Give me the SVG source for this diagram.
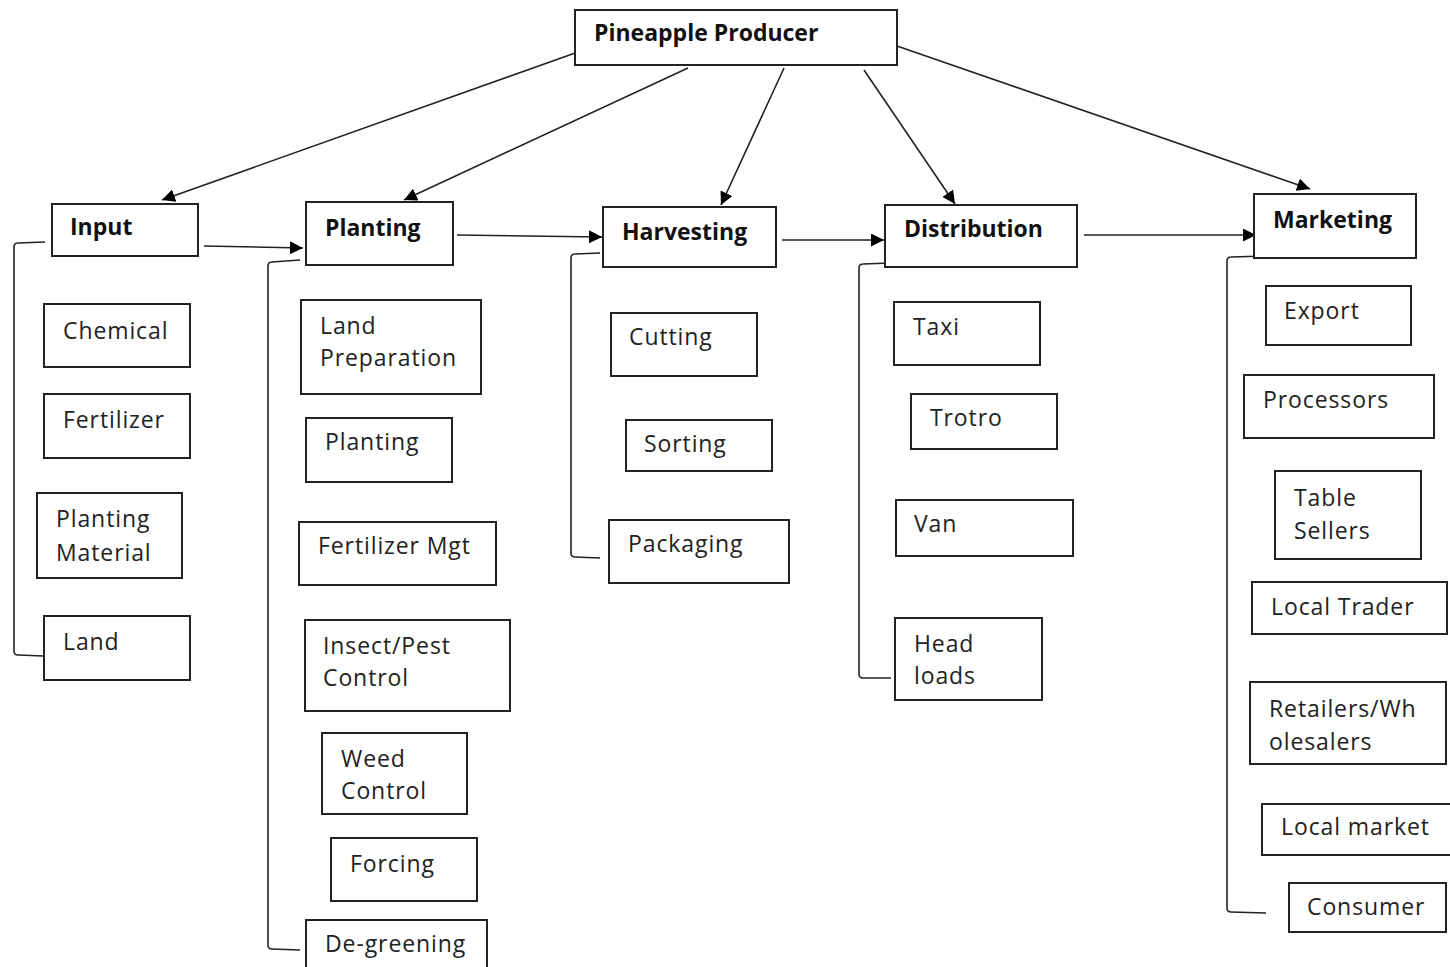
<svg xmlns="http://www.w3.org/2000/svg" width="1450" height="967" viewBox="0 0 1450 967">
<defs>
<marker id="ah" viewBox="0 0 10 10" refX="10" refY="5" markerWidth="13" markerHeight="13" markerUnits="userSpaceOnUse" orient="auto">
<path d="M0,0 L10,5 L0,10 z" fill="#000"/>
</marker>
<style>
rect{fill:#fff;stroke:#222;stroke-width:2}
text{font-family:"Open Sans","Noto Sans",sans-serif;font-size:23px;letter-spacing:0.9px;fill:#222}
.h{font-weight:bold;fill:#111;letter-spacing:0}
.c line{stroke:#222;stroke-width:1.6;marker-end:url(#ah)}
.c path{fill:none;stroke:#222;stroke-width:1.6}
</style>
</defs>
<rect x="0" y="0" width="1450" height="967" style="stroke:none;fill:#fff"/>
<g class="c" id="connectors">
<line x1="578" y1="52" x2="162" y2="200"/>
<line x1="688" y1="68" x2="404" y2="200"/>
<line x1="784" y1="68" x2="721" y2="205"/>
<line x1="864" y1="70" x2="955" y2="204"/>
<line x1="897" y1="46" x2="1310" y2="189"/>
<line x1="204" y1="246" x2="303" y2="248"/>
<line x1="457" y1="235" x2="602" y2="237"/>
<line x1="782" y1="240" x2="884" y2="240"/>
<line x1="1084" y1="235" x2="1256" y2="235"/>
<path d="M45,242 L18,243 Q14,243 14,247 L14,651 Q14,655 18,655 L44,656"/>
<path d="M300,260 L272,262 Q268,262 268,266 L268,945 Q268,949 272,949 L300,950"/>
<path d="M600,253 L575,254 Q571,254 571,258 L571,553 Q571,557 575,557 L600,558"/>
<path d="M890,263 L863,264 Q859,264 859,268 L859,674 Q859,678 863,678 L891,678"/>
<path d="M1266,256 L1231,257 Q1227,257 1227,261 L1227,908 Q1227,912 1231,912 L1266,913"/>
</g>
<g id="producer"><rect x="575" y="10" width="322" height="55"/><text class="h" x="594" y="41">Pineapple Producer</text></g>
<g id="input"><rect x="52" y="204" width="146" height="52"/><text class="h" x="70" y="235">Input</text></g>
<g id="planting"><rect x="306" y="202" width="147" height="63"/><text class="h" x="325" y="236">Planting</text></g>
<g id="harvesting"><rect x="603" y="207" width="173" height="60"/><text class="h" x="622" y="240">Harvesting</text></g>
<g id="distribution"><rect x="885" y="205" width="192" height="62"/><text class="h" x="904" y="237">Distribution</text></g>
<g id="marketing"><rect x="1254" y="194" width="162" height="64"/><text class="h" x="1273" y="228">Marketing</text></g>

<g id="chemical"><rect x="44" y="304" width="146" height="63"/><text x="63" y="339">Chemical</text></g>
<g id="fertilizer"><rect x="44" y="394" width="146" height="64"/><text x="63" y="428">Fertilizer</text></g>
<g id="planting-material"><rect x="37" y="493" width="145" height="85"/><text x="56" y="527">Planting</text><text x="56" y="561">Material</text></g>
<g id="land"><rect x="44" y="616" width="146" height="64"/><text x="63" y="650">Land</text></g>

<g id="land-preparation"><rect x="301" y="300" width="180" height="94"/><text x="320" y="334">Land</text><text x="320" y="366">Preparation</text></g>
<g id="planting-task"><rect x="306" y="418" width="146" height="64"/><text x="325" y="450">Planting</text></g>
<g id="fertilizer-mgt"><rect x="299" y="522" width="197" height="63"/><text x="318" y="554">Fertilizer Mgt</text></g>
<g id="insect-pest"><rect x="305" y="620" width="205" height="91"/><text x="323" y="654">Insect/Pest</text><text x="323" y="686">Control</text></g>
<g id="weed-control"><rect x="322" y="733" width="145" height="81"/><text x="341" y="767">Weed</text><text x="341" y="799">Control</text></g>
<g id="forcing"><rect x="331" y="838" width="146" height="63"/><text x="350" y="872">Forcing</text></g>
<g id="de-greening"><rect x="306" y="920" width="181" height="60"/><text x="325" y="952">De-greening</text></g>

<g id="cutting"><rect x="611" y="313" width="146" height="63"/><text x="629" y="345">Cutting</text></g>
<g id="sorting"><rect x="626" y="420" width="146" height="51"/><text x="644" y="452">Sorting</text></g>
<g id="packaging"><rect x="609" y="520" width="180" height="63"/><text x="628" y="552">Packaging</text></g>

<g id="taxi"><rect x="894" y="302" width="146" height="63"/><text x="913" y="335">Taxi</text></g>
<g id="trotro"><rect x="911" y="394" width="146" height="55"/><text x="930" y="426">Trotro</text></g>
<g id="van"><rect x="896" y="500" width="177" height="56"/><text x="914" y="532">Van</text></g>
<g id="head-loads"><rect x="895" y="618" width="147" height="82"/><text x="914" y="652">Head</text><text x="914" y="684">loads</text></g>

<g id="export"><rect x="1266" y="286" width="145" height="59"/><text x="1284" y="319">Export</text></g>
<g id="processors"><rect x="1244" y="375" width="190" height="63"/><text x="1263" y="408">Processors</text></g>
<g id="table-sellers"><rect x="1275" y="471" width="146" height="88"/><text x="1294" y="506">Table</text><text x="1294" y="539">Sellers</text></g>
<g id="local-trader"><rect x="1252" y="582" width="195" height="52"/><text x="1271" y="615">Local Trader</text></g>
<g id="retailers"><rect x="1250" y="682" width="196" height="82"/><text x="1269" y="717">Retailers/Wh</text><text x="1269" y="750">olesalers</text></g>
<g id="local-market"><rect x="1262" y="804" width="192" height="51"/><text x="1281" y="835">Local market</text></g>
<g id="consumer"><rect x="1289" y="883" width="157" height="49"/><text x="1307" y="915">Consumer</text></g>
</svg>
